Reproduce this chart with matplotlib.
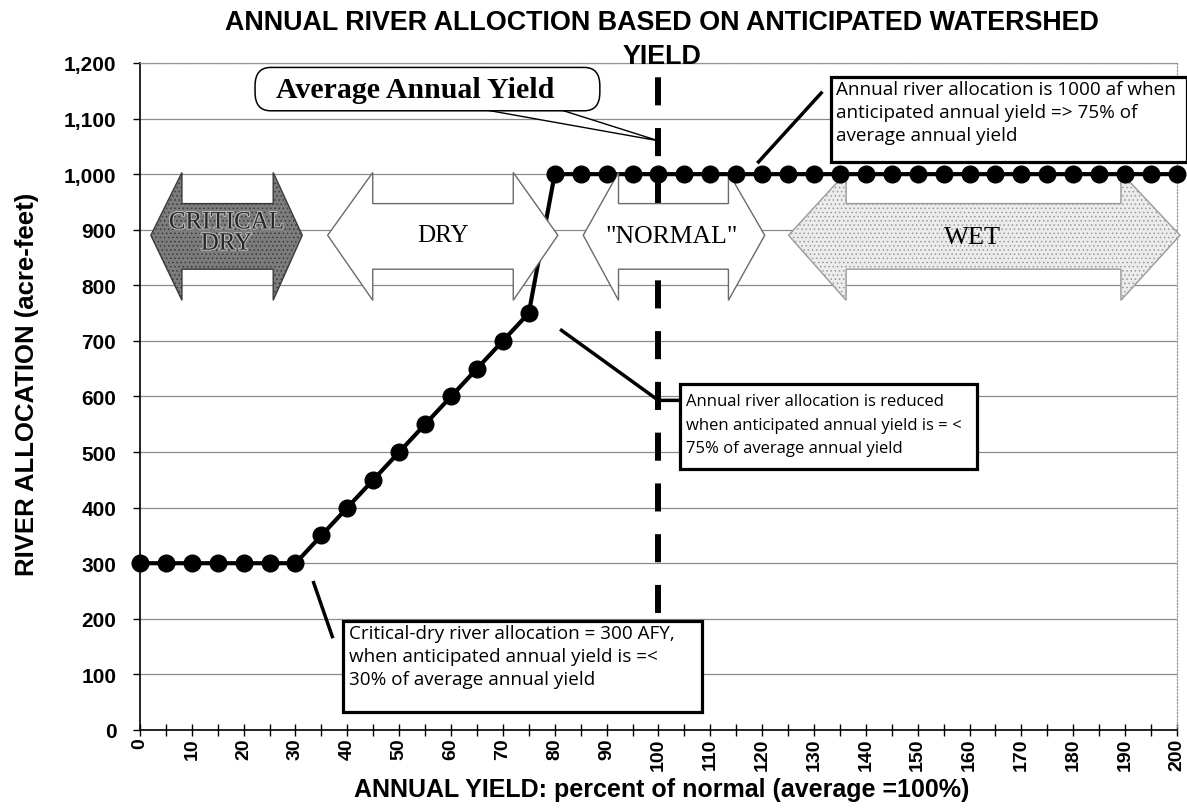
"""Annual river allocation vs anticipated watershed yield."""
import matplotlib
matplotlib.use("Agg")
import matplotlib.pyplot as plt
from matplotlib.patches import Polygon, Rectangle, FancyBboxPatch
import matplotlib.patheffects as pe

yield_pct = [0, 5, 10, 15, 20, 25, 30, 35, 40, 45, 50, 55, 60, 65, 70, 75,
             80, 85, 90, 95, 100, 105, 110, 115, 120, 125, 130, 135, 140,
             145, 150, 155, 160, 165, 170, 175, 180, 185, 190, 195, 200]
allocation = [300, 300, 300, 300, 300, 300, 300, 350, 400, 450, 500, 550,
              600, 650, 700, 750, 1000, 1000, 1000, 1000, 1000, 1000, 1000,
              1000, 1000, 1000, 1000, 1000, 1000, 1000, 1000, 1000, 1000,
              1000, 1000, 1000, 1000, 1000, 1000, 1000, 1000]
tick_labels = [str(v) for v in range(0, 201, 10)]

SANS = "Liberation Sans"
SERIF = "Liberation Serif"
NOTE = "Open Sans"


def double_arrow(ax, x0, xb0, xb1, x1, fc, ec, hatch=None):
    # block double arrow; head top/bottom, body top/bottom, tip height
    yht, ybt, ytip, ybb, yhb = 1003, 947, 890, 829, 773
    pts = [(x0, ytip), (xb0, yht), (xb0, ybt), (xb1, ybt), (xb1, yht),
           (x1, ytip), (xb1, yhb), (xb1, ybb), (xb0, ybb), (xb0, yhb)]
    ax.add_patch(Polygon(pts, closed=True, facecolor=fc, edgecolor=ec,
                         lw=1.0, hatch=hatch, zorder=4, clip_on=False))


def note_box(ax, x0, x1, y0, y1, text, tx, ty, size=13.6, spacing=1.38):
    ax.add_patch(Rectangle((x0, y0), x1 - x0, y1 - y0, facecolor="white",
                           edgecolor="black", lw=2.3, zorder=7, clip_on=False))
    ax.text(tx, ty, text, family=NOTE, fontsize=size, va="top", ha="left",
            linespacing=spacing, zorder=8, clip_on=False)


def main():
    plt.rcParams["hatch.linewidth"] = 0.6
    fig = plt.figure(figsize=(11.87, 8.12), dpi=100)
    ax = fig.add_axes([0.1179, 0.0998, 0.8736, 0.8214])

    ax.set_xlim(0, 200)
    ax.set_ylim(0, 1200)
    ax.set_yticks(range(0, 1201, 100))
    ax.set_yticklabels([f"{v:,}" for v in range(0, 1201, 100)],
                       family=SANS, fontweight="bold", fontsize=15)
    ax.set_xticks(range(0, 201, 10))
    ax.set_xticklabels(tick_labels, rotation=90, family=SANS,
                       fontweight="bold", fontsize=14)
    ax.set_xticks(range(5, 200, 10), minor=True)
    ax.tick_params(axis="x", which="both", direction="inout", length=9,
                   width=1, pad=1)
    ax.tick_params(axis="y", direction="out", length=5, width=1, pad=12)
    ax.grid(axis="y", color="#8a8a8a", lw=0.9)
    ax.set_axisbelow(True)
    for side in ("top", "right"):
        ax.spines[side].set_color("#999999")
        ax.spines[side].set_linestyle(":")
        ax.spines[side].set_linewidth(0.9)
    ax.spines["left"].set_linewidth(1.2)
    ax.spines["bottom"].set_linewidth(1.2)

    # average yield marker
    ax.vlines(100, 210, 1187, colors="black", lw=4.3,
              linestyles=(0, (4.7, 3.8)), zorder=2)

    # allocation curve
    ax.plot(yield_pct, allocation, color="black", lw=3, zorder=3, clip_on=False)

    # yield class arrows
    double_arrow(ax, 2.1, 8.1, 25.7, 31.3, "#7c7c7c", "#3a3a3a", hatch="....")
    double_arrow(ax, 36.2, 44.9, 72.0, 80.6, "white", "#6a6a6a")
    double_arrow(ax, 85.5, 92.3, 113.5, 120.5, "white", "#6a6a6a")
    double_arrow(ax, 125.1, 136.2, 189.2, 200.6, "#ececec", "#9a9a9a",
                 hatch="....")
    ax.text(16.7, 894, "CRITICAL\nDRY", family=SERIF, fontsize=18,
            color="#262626", ha="center", va="center", linespacing=0.95,
            zorder=5, path_effects=[pe.withStroke(linewidth=1.5,
                                                  foreground="#bdbdbd")])
    ax.text(58.5, 890, "DRY", family=SERIF, fontsize=18, ha="center",
            va="center", zorder=5)
    ax.text(102.6, 889, '"NORMAL"', family=SERIF, fontsize=18.5,
            ha="center", va="center", zorder=5)
    ax.text(160.5, 887, "WET", family=SERIF, fontsize=19, ha="center",
            va="center", zorder=5)

    ax.plot(yield_pct, allocation, "o", color="black", ms=12, zorder=6,
            clip_on=False)

    # "Average Annual Yield" callout
    ax.add_patch(Polygon([(61, 1125), (78, 1125), (100, 1060)], closed=True,
                         facecolor="white", edgecolor="black", lw=1,
                         zorder=7, clip_on=False))
    ax.add_patch(FancyBboxPatch((22.2, 1114), 66.5, 78,
                                boxstyle="round,pad=0,rounding_size=3",
                                mutation_aspect=11, facecolor="white",
                                edgecolor="black", lw=1.1, zorder=8,
                                clip_on=False))
    ax.text(53.0, 1152, "Average Annual Yield", family=SERIF,
            fontweight="bold", fontsize=21.5, ha="center", va="center",
            zorder=9)

    # notes with leader lines
    ax.plot([119.3, 131.4], [1022, 1146], color="black", lw=2.5, zorder=7)
    note_box(ax, 133.3, 202, 1022, 1175,
             "Annual river allocation is 1000 af when\n"
             "anticipated annual yield => 75% of\naverage annual yield",
             134.2, 1170)
    ax.plot([81.3, 100, 104.1], [719, 593, 593], color="black", lw=2.5,
            zorder=7)
    note_box(ax, 104.1, 161.5, 469, 622,
             "Annual river allocation is reduced\n"
             "when anticipated annual yield is = <\n"
             "75% of average annual yield", 105.3, 606, size=12,
             spacing=1.62)
    ax.plot([33.5, 37.1], [265, 168], color="black", lw=2.5, zorder=7)
    note_box(ax, 39.2, 108.4, 32, 196,
             "Critical-dry river allocation = 300 AFY,\n"
             "when anticipated annual yield is =<\n"
             "30% of average annual yield", 40.3, 191)

    fig.text(0.5577, 0.9505, "ANNUAL RIVER ALLOCTION BASED ON ANTICIPATED "
             "WATERSHED\nYIELD", family=SANS, fontweight="bold", fontsize=19.4,
             ha="center", va="center", linespacing=1.42)
    fig.text(0.5573, 0.027, "ANNUAL YIELD: percent of normal (average =100%)",
             family=SANS, fontweight="bold", fontsize=18, ha="center",
             va="center")
    fig.text(0.023, 0.527, "RIVER ALLOCATION (acre-feet)", family=SANS,
             fontweight="bold", fontsize=18.5, rotation=90, ha="center",
             va="center")

    fig.savefig("out.png", dpi=100)


if __name__ == "__main__":
    main()
